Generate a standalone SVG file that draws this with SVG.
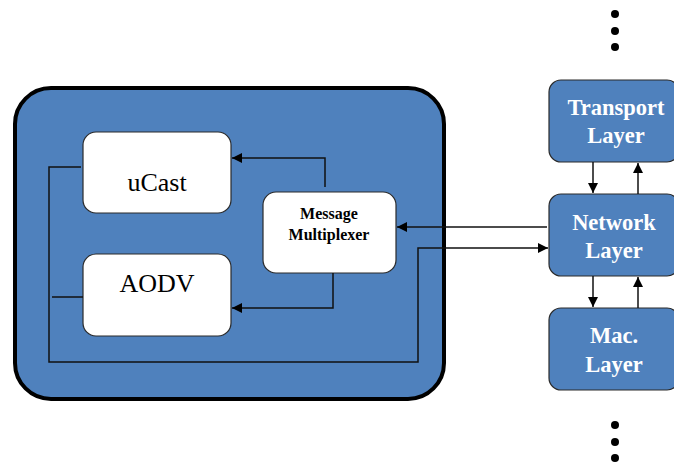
<svg xmlns="http://www.w3.org/2000/svg" width="674" height="466" viewBox="0 0 674 466">
<defs>
<marker id="ah" viewBox="0 0 10 10" refX="10" refY="5" markerWidth="10" markerHeight="10" markerUnits="userSpaceOnUse" orient="auto">
<path d="M0,0 L10,5 L0,10 z" fill="#000"/>
</marker>
</defs>
<style>
.wbox{fill:#fff;stroke:#2b2b2b;stroke-width:1.2}
.bbox{fill:#4F81BD;stroke:#2b2b2b;stroke-width:1.2}
.ln{fill:none;stroke:#111;stroke-width:1.5}
.big{font-family:"Liberation Serif",serif;font-size:26px;fill:#000}
.mm{font-family:"Liberation Serif",serif;font-size:16px;font-weight:bold;fill:#000}
.lay{font-family:"Liberation Serif",serif;font-size:22.5px;font-weight:bold;fill:#fff}
</style>
<g id="container">
<rect x="15" y="88" width="429" height="311" rx="36" fill="#4F81BD" stroke="#000" stroke-width="4"/>
</g>
<g id="ucast">
<rect class="wbox" x="83" y="132" width="148" height="81" rx="13"/>
<text class="big" x="157" y="191" text-anchor="middle" font-size="30">uCast</text>
</g>
<g id="aodv">
<rect class="wbox" x="83" y="254" width="148" height="82" rx="13"/>
<text class="big" x="157" y="292" text-anchor="middle">AODV</text>
</g>
<g id="multiplexer">
<rect class="wbox" x="263" y="192" width="133" height="81" rx="13"/>
<text class="mm" x="329" y="219" text-anchor="middle">Message</text>
<text class="mm" x="329" y="240" text-anchor="middle">Multiplexer</text>
</g>
<g id="transport">
<rect class="bbox" x="549" y="80" width="130" height="82" rx="12"/>
<text class="lay" x="616" y="115" text-anchor="middle">Transport</text>
<text class="lay" x="616" y="143" text-anchor="middle">Layer</text>
</g>
<g id="network">
<rect class="bbox" x="549" y="194" width="130" height="82" rx="12"/>
<text class="lay" x="614" y="230" text-anchor="middle">Network</text>
<text class="lay" x="614" y="258" text-anchor="middle">Layer</text>
</g>
<g id="mac">
<rect class="bbox" x="549" y="308" width="130" height="82" rx="12"/>
<text class="lay" x="614" y="343" text-anchor="middle">Mac.</text>
<text class="lay" x="614" y="372" text-anchor="middle">Layer</text>
</g>
<g id="dots" fill="#000">
<circle cx="615" cy="14" r="4"/>
<circle cx="615" cy="31" r="4"/>
<circle cx="615" cy="47" r="4"/>
<circle cx="615" cy="425" r="4"/>
<circle cx="615" cy="442" r="4"/>
<circle cx="615" cy="458" r="4"/>
</g>
<g id="connectors">
<polyline class="ln" points="325,187 325,158 232,158" marker-end="url(#ah)"/>
<polyline class="ln" points="333,273 333,308 232,308" marker-end="url(#ah)"/>
<polyline class="ln" points="81,167 49,167 49,362 418,362 418,248 548,248" marker-end="url(#ah)"/>
<line class="ln" x1="52" y1="297" x2="83" y2="297"/>
<line class="ln" x1="547" y1="227" x2="397" y2="227" marker-end="url(#ah)"/>
<line class="ln" x1="593" y1="162" x2="593" y2="193" marker-end="url(#ah)"/>
<line class="ln" x1="638" y1="194" x2="638" y2="163" marker-end="url(#ah)"/>
<line class="ln" x1="593" y1="276" x2="593" y2="307" marker-end="url(#ah)"/>
<line class="ln" x1="638" y1="308" x2="638" y2="277" marker-end="url(#ah)"/>
</g>
</svg>
